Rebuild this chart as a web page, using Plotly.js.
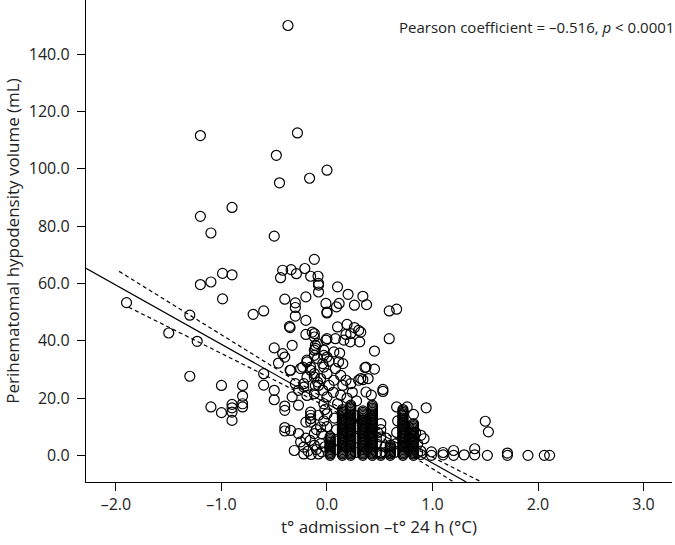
<!DOCTYPE html>
<html>
<head>
<meta charset="utf-8">
<script src="https://cdn.plot.ly/plotly-3.0.1.min.js"></script>
<style>html,body{margin:0;padding:0;background:#fff;}#chart{width:675px;height:545px;}</style>
</head>
<body>
<div id="chart"></div>
<script>
// Scattered observations (x: temperature change °C, y: volume mL)
const scatterX = [
-0.37,-1.20,-0.28,-0.48,0.0,-0.165,-0.45,-0.90,-1.20,-1.10,-0.50,-0.12,
-0.42,-0.34,-0.29,-0.21,-0.155,-0.085,-0.44,
-1.90,-1.50,-1.30,-1.23,-1.30,-1.20,-1.10,-0.99,-0.90,-0.99,-0.70,-0.60,
-1.00,-0.80,-0.80,-0.80,-0.80,-0.90,-0.90,-0.90,-0.90,-1.10,-1.00,
-0.60,-0.60,-0.50,-0.50,-0.50,-0.42,-0.40,-0.46,-0.35,-0.33,-0.35,-0.40,-0.30,-0.30,-0.30,-0.20,-0.20,
-0.08,-0.08,-0.01,0.0,
-0.40,-0.40,-0.40,-0.40,-0.345,-0.27,-0.27,-0.33,-0.25,-0.22,-0.31,-0.16,-0.155,-0.155,-0.155,-0.155,-0.20,-0.12,-0.06,-0.05,
-0.30,-0.27,-0.22,-0.19,-0.23,-0.19,-0.12,-0.155,-0.12,-0.09,-0.04,0.0,-0.12,-0.09,-0.11,-0.14,0.0,-0.03,0.0,-0.04,-0.08,-0.12,-0.03,0.0,-0.06,
-0.08,0.10,0.115,0.09,0.20,0.34,0.26,0.375,0.0,0.59,0.66,0.10,0.19,0.26,0.30,0.225,0.32,0.18,0.31,0.22,0.16,0.08,-0.01,0.59,0.45,0.36,0.45,0.30,0.39,0.53,
-0.355,-0.345,-0.20,-0.12,-0.11,-0.12,0.065,0.12,-0.03,-0.09,0.02,0.11,0.15,-0.19,-0.155,-0.03,0.08,-0.25,-0.12,0.0,0.13,-0.19,-0.06,0.065,0.18,-0.22,-0.11,0.02,0.15,0.225,0.32,
0.53,0.66,0.76,0.82,0.94,1.50,1.53,0.89,0.92,1.40,1.30,1.20,1.20,1.10,1.10,0.99,0.99,0.89,0.89,1.40,1.52,1.71,1.71,1.905,2.06,2.11,0.37,0.34,0.37,0.51,0.51,0.51,
-0.22,-0.18,-0.15,-0.10,-0.08,-0.05,-0.02,-0.12,-0.20,-0.10,-0.03,0.0,-0.08,-0.02,
0.08,0.08,0.09,0.07,0.10,0.18,0.19,0.18,0.19,0.27,0.27,0.28,0.26,0.28,0.38,0.39,0.38,0.47,0.47,0.48,0.55,0.55,0.56,0.64,0.65,0.66,0.67,0.77,0.78,0.77,0.86,0.86,0.84,0.13,0.24,0.06,0.42
];
const scatterY = [
150,111.6,112.5,104.7,99.5,96.7,95.1,86.5,83.4,77.6,76.5,68.4,
64.6,64.8,63.4,65.2,62.5,62.5,62,
53.3,42.7,48.9,39.8,27.6,59.6,60.5,63.5,63,54.6,49.2,50.4,
24.4,24.4,20.7,18.0,16.9,17.8,16.6,15.1,12.2,16.9,14.9,
28.5,24.5,22.7,19.4,37.5,35.5,34.3,32.2,29.7,38.4,44.6,54.5,53.2,51.6,48.6,55.3,47.1,
59.4,57,53,50,
17.2,15.7,9.7,8.5,8.7,7.6,17.5,20.4,4.7,2.9,1.7,5.2,11.6,15.1,14,12.8,11.6,7.6,4.1,7.6,
25,22.7,23.8,20.9,30.8,33.2,34.9,29.7,27.3,25.6,22.7,20.4,41.3,39,37.3,43,40.7,36.7,34.3,32,24.4,21.5,18,14.5,9.9,
60,58.8,53,51.8,56.2,55.5,52.4,52.6,49.7,50.4,51,44.8,45.7,44.6,43.6,42.5,43,42.2,39.6,39.6,40.2,40.7,40.2,40.7,36.4,30.6,30.1,26.2,26.8,23,
45,29.7,42.2,42.5,38.4,36.7,36.1,35.7,34.9,33.8,32.9,32.6,32,32.6,30.8,30.8,30.3,30.3,28.5,28.5,27.9,27.3,26.8,26.2,26.2,25,24.4,24.4,24.4,25,26.8,
22.3,16.9,16.9,14.3,16.6,11.9,8.2,7,5.8,2.3,0.2,1.7,0,0.2,1,1.2,0,1.5,0.3,0.2,0,0.8,0,0,0,0,30.8,26.4,22.1,11.1,9.0,6.4,
0.5,1.5,0.3,2,0.5,1.2,3,3.5,6,9,12,10,14,16,
2,5,9,13,18,3,8,12,20,1,6,10,14,19,2,7,12,1,4,8,1,3,6,1,4,8,12,2,6,10,1,4,8,21,22,22,21
];

// Densely stacked columns (x position and the volumes observed at it)
const columnX = [0.03, 0.146, 0.225, 0.34, 0.43, 0.51, 0.60, 0.72, 0.82];
const columnA = [0,0.5,1,1.5,2,2.5,3,3.5,4,4.5,5,5.5,6,6.5];
const columnB = [0,0.5,1,1.5,2,2.5,3,3.5,4,4.5,5,5.5,6,6.5,7,7.5,8,8.5,9,9.5,10,10.5,11,11.5,12,12.5,13,13.5,14,14.5,15,15.5,16];
const columnC = [0,0.5,1,1.5,2,2.5,3,3.5,4,4.5,5,5.5,6,6.5,7,7.5,8,8.5,9,9.5,10,10.5,11,11.5,12,12.5,13,13.5,14,14.5,15,15.5,16,16.5,17,17.5];
const columnD = [0,0.5,1,1.5,2,2.5,3,3.5,4,4.5,5,5.5,6,6.5,7,7.5,8,8.5,9,9.5,10,10.5,11,11.5,12,12.5,13,13.5,14,14.5,15,15.5];
const columnE = [0,0.5,1,1.5,2,2.5,3,3.5,4,4.5,5,5.5,6,6.5,7,7.5,8,8.5,9,9.5,10,10.5,11,11.5,12,12.5,13,13.5,14,14.5,15,15.5,16,16.5,17,17.5];
const columnF = [0,0.5,1];
const columnG = [0,0.5,1,1.5,2,2.5,3,3.5];
const columnH = [0,0.5,1,1.5,2,2.5,3,3.5,4,4.5,5,5.5,6,6.5,7,7.5,8,8.5,9,9.5,10,10.5,11,11.5,12,12.5,13,13.5,14,14.5,15,15.5,16];
const columnI = [0,0.5,1,1.5,2,2.5,3,3.5,4,4.5,5,5.5,6,6.5,7,7.5,8,8.5,9,9.5,10,10.5,11];
const columnValues = [columnA, columnB, columnC, columnD, columnE, columnF, columnG, columnH, columnI];

// Regression line and 95% confidence band
const fitX = [-2.284, 1.32];
const fitY = [65.3, -9.3];
const ciUpperX = [-1.97, -1.5, -1.0, -0.5, 0, 0.3, 0.6, 1.0, 1.47];
const ciUpperY = [64.2, 53.4, 41.95, 30.5, 19.25, 12.84, 6.83, -0.65, -9.4];
const ciLowerX = [-1.88, -1.5, -1.0, -0.5, 0, 0.3, 0.6, 1.0, 1.2];
const ciLowerY = [51.7, 44.8, 35.55, 26.3, 16.85, 10.84, 4.43, -4.65, -9.3];

const xTicks = [-2, -1, 0, 1, 2, 3];
const xTickText = ['–2.0', '–1.0', '0.0', '1.0', '2.0', '3.0'];
const yTicks = [0, 20, 40, 60, 80, 100, 120, 140];
const yTickText = ['0.0', '20.0', '40.0', '60.0', '80.0', '100.0', '120.0', '140.0'];

const colPtsX = [], colPtsY = [];
columnValues.forEach((vals, i) => vals.forEach(v => { colPtsX.push(columnX[i]); colPtsY.push(v); }));

const marker = {symbol: 'circle-open', size: 10, color: '#000', line: {width: 1.2, color: '#000'}};
const font = "'Open Sans', 'Noto Sans', sans-serif";

const traces = [
  {x: colPtsX, y: colPtsY, type: 'scatter', mode: 'markers', marker: marker, hoverinfo: 'skip'},
  {x: scatterX, y: scatterY, type: 'scatter', mode: 'markers', marker: marker},
  {x: fitX, y: fitY, type: 'scatter', mode: 'lines', line: {color: '#000', width: 1.2}},
  {x: ciUpperX, y: ciUpperY, type: 'scatter', mode: 'lines', line: {color: '#000', width: 1.2, dash: '4px,3px'}},
  {x: ciLowerX, y: ciLowerY, type: 'scatter', mode: 'lines', line: {color: '#000', width: 1.2, dash: '4px,3px'}}
];

const layout = {
  width: 675, height: 545,
  margin: {l: 86, r: 3, t: 0, b: 63, pad: 0},
  paper_bgcolor: '#fff', plot_bgcolor: '#fff',
  showlegend: false,
  font: {family: font, size: 16, color: '#222'},
  xaxis: {
    range: [-2.284, 3.27], tickvals: xTicks, ticktext: xTickText,
    showgrid: false, zeroline: false, showline: true, linecolor: '#000', linewidth: 1.2,
    ticks: 'outside', ticklen: 8, tickwidth: 1, tickcolor: '#000',
    tickfont: {family: font, size: 16, color: '#222'},
    title: {text: 't° admission –t° 24 h (°C)', font: {family: font, size: 17, color: '#222'}, standoff: 4}
  },
  yaxis: {
    range: [-9.3, 158.9], tickvals: yTicks, ticktext: yTickText,
    showgrid: false, zeroline: false, showline: true, linecolor: '#000', linewidth: 1.2,
    ticks: 'outside', ticklen: 8, tickwidth: 1, tickcolor: '#000', ticklabelstandoff: 4,
    tickfont: {family: font, size: 16, color: '#222'},
    title: {text: 'Perihematomal hypodensity volume (mL)', font: {family: font, size: 17, color: '#222'}, standoff: 4}
  },
  annotations: [{
    xref: 'paper', yref: 'paper', x: 1, y: 0.945, xanchor: 'right', yanchor: 'middle', xshift: 4,
    text: 'Pearson coefficient = –0.516, <i>p</i> < 0.0001', showarrow: false,
    font: {family: font, size: 15, color: '#222'}
  }]
};

Plotly.newPlot('chart', traces, layout, {displayModeBar: false, staticPlot: true});
</script>
</body>
</html>
